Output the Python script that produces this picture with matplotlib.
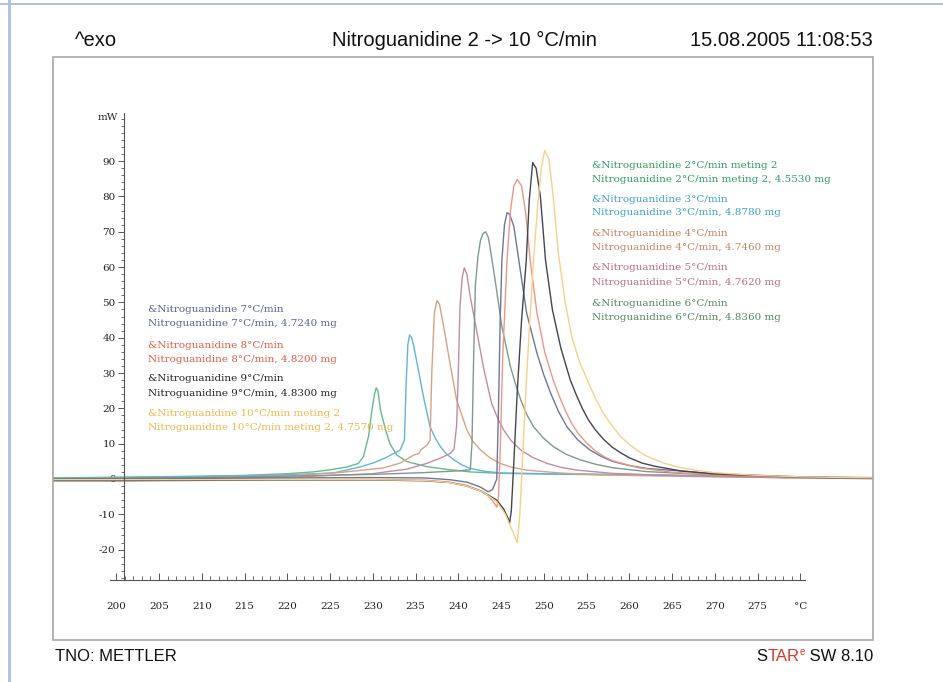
import matplotlib
matplotlib.use("Agg")
import matplotlib.pyplot as plt
from matplotlib.patches import Rectangle
from matplotlib.ticker import FixedLocator

plt.rcParams["axes.unicode_minus"] = False

# DSC curves, temperature in degC and heat flow in mW
t2 = [192.5, 200, 210, 215, 220, 223, 225, 227, 228.3, 228.9, 229.5, 229.9, 230.2, 230.4, 230.6, 230.9,
      231.5, 232.0, 232.8, 234.0, 236.3, 238.7, 241.4, 245, 250, 260, 270, 280, 288.5]
m2 = [0.3, 0.5, 0.8, 1.0, 1.5, 2.0, 2.6, 3.4, 4.4, 6.3, 12, 19.5, 24, 25.8, 25, 19.5,
      13.9, 10, 6.8, 4.9, 3.5, 2.7, 2.0, 1.6, 1.4, 1.1, 0.8, 0.5, 0.3]

t3 = [192.5, 200, 210, 220, 225.4, 228.5, 230, 231.5, 233.2, 233.7, 233.9, 234.1, 234.3, 234.55, 234.8,
      235.4, 236.0, 236.7, 237.3, 237.9, 238.6, 239.5, 240.4, 241.4, 243, 245, 250, 260, 270, 280, 288.5]
m3 = [0.2, 0.4, 0.7, 1.2, 1.7, 3.4, 4.5, 6.0, 8.2, 11, 27, 38, 40.8, 40, 37.5,
      30, 22.4, 14.8, 11.6, 9.2, 7.1, 5.4, 4.0, 3.0, 2.2, 1.7, 1.5, 1.3, 0.9, 0.6, 0.4]

t4 = [192.5, 200, 210, 220, 226, 231.2, 233.2, 234.8, 235.4, 235.6, 236.3, 236.7, 236.9, 237.2, 237.5,
      237.8, 238.3, 239.1, 239.8, 241.0, 241.7, 242.6, 243.7, 244.9, 246.3, 248.0, 251.9, 256, 260,
      270, 280, 288.5]
m4 = [0.0, 0.2, 0.4, 0.9, 1.8, 3.1, 4.5, 6.8, 7.2, 8.2, 9.5, 11, 30, 47, 50.5,
      49.5, 43, 31.8, 22.4, 13.9, 10.7, 8.2, 6.0, 4.4, 3.3, 2.5, 1.7, 1.2, 1.0,
      0.6, 0.3, 0.1]

t5 = [192.5, 200, 210, 220, 230, 234, 236.3, 237.9, 239.1, 239.5, 239.8, 240.0, 240.2, 240.45, 240.7,
      241.0, 241.4, 242.2, 243.0, 243.9, 244.6, 245.3, 246.2, 247.3, 248.7, 250.4, 252.0, 253.9, 258,
      262, 270, 280, 288.5]
m5 = [-0.2, 0.0, 0.2, 0.5, 1.5, 2.8, 4.4, 5.9, 7.3, 8.5, 15, 30, 49, 57, 59.8,
      58, 51.6, 41.3, 30.9, 21.4, 17.2, 13.9, 10.8, 8.2, 6.1, 4.4, 3.3, 2.5, 1.6,
      1.2, 0.7, 0.3, 0.1]

t6 = [192.5, 200, 210, 220, 230, 236, 240, 241.4, 241.6, 241.8, 242.0, 242.3, 242.6, 242.9, 243.2,
      243.5, 243.7, 244.3, 245.1, 246.1, 246.7, 247.3, 248.0, 248.8, 249.9, 251.1, 252.6, 254.3, 256,
      258, 262, 270, 280, 288.5]
m6 = [0.0, 0.2, 0.4, 0.8, 1.3, 1.8, 2.3, 2.6, 10, 35, 55, 63, 67.7, 69.5, 70,
      68.5, 65.8, 56.4, 43.1, 31.8, 26.8, 22.4, 18.3, 14.8, 11.7, 9.2, 7.0, 5.4, 4.2,
      3.2, 2.1, 1.1, 0.5, 0.2]

t7 = [192.5, 200, 210, 220, 230, 236, 239, 241, 242.5, 243.5, 244.0, 244.5, 244.7, 244.9, 245.1,
      245.4, 245.7, 246.0, 246.5, 247.3, 248.0, 249.2, 250.0, 250.8, 251.7, 252.7, 254.0, 255.4, 256.7,
      258, 260, 262, 270, 280, 288.5]
m7 = [0.0, 0.1, 0.2, 0.3, 0.4, 0.3, -0.2, -0.9, -2.2, -3.6, -3.0, 0, 20, 45, 62,
      72, 75.4, 75, 71.5, 58.3, 46.9, 35.6, 29.5, 24.3, 19.2, 14.8, 11.0, 8.2, 6.4,
      5.0, 3.8, 3.0, 1.5, 0.6, 0.3]

t8 = [192.5, 200, 210, 220, 230, 236, 239, 241, 242.5, 243.5, 244.2, 244.5, 244.7, 244.9, 245.2,
      245.7, 246.1, 246.5, 246.9, 247.4, 247.9, 248.4, 249.2, 250.1, 251.1, 251.8, 252.5, 253.2, 254,
      255, 256, 257, 258, 261, 265, 270, 280, 288.5]
m8 = [-0.4, -0.4, -0.3, -0.2, -0.1, -0.3, -0.9, -1.8, -3.2, -4.8, -6.8, -8.0, -5, 8, 35,
      62, 76, 83, 84.8, 83, 75, 62, 47, 36, 28, 23.5, 19.5, 16, 13,
      10.2, 8.0, 6.4, 5.2, 3.2, 1.9, 1.2, 0.5, 0.2]

t9 = [192.5, 200, 210, 220, 230, 236, 239, 241, 243, 244.5, 245.3, 245.8, 246.0, 246.2, 246.5,
      246.9, 247.4, 247.95, 248.3, 248.7, 249.1, 249.6, 250.2, 251.0, 252.0, 253.1, 253.8, 254.5, 255.2,
      256, 257, 258, 259, 260, 261.5, 263, 266, 270, 280, 288.5]
m9 = [-0.5, -0.5, -0.4, -0.3, -0.3, -0.5, -1.0, -2.0, -3.8, -6.0, -8.5, -11, -12.5, -9, 5,
      25, 45, 62, 79, 89.6, 88, 80, 62, 48, 37, 28, 23.8, 20, 16.8,
      14, 11.2, 9.0, 7.4, 6.0, 4.5, 3.6, 2.3, 1.4, 0.5, 0.2]

t10 = [192.5, 200, 210, 220, 230, 236, 239, 241, 243, 244.5, 245.5, 246.3, 246.9, 247.2, 247.5,
       247.9, 248.3, 248.8, 249.3, 249.7, 250.1, 250.6, 251.1, 251.7, 252.5, 253.3, 254.2, 255.1,
       256, 257, 258, 259, 260, 261, 262, 264, 266, 268, 270, 275, 280, 288.5]
m10 = [-0.2, -0.2, -0.2, -0.2, -0.2, -0.4, -1.0, -2.0, -3.8, -6.5, -10, -14.5, -18, -10, 5,
       25, 42, 62, 78, 88, 93, 90.5, 80, 64, 50, 40, 33, 28,
       23, 18.5, 15, 12, 9.8, 8, 6.5, 4.5, 3.2, 2.4, 1.8, 1.0, 0.6, 0.3]

temps = [t2, t3, t4, t5, t6, t7, t8, t9, t10]
flows = [m2, m3, m4, m5, m6, m7, m8, m9, m10]
line_colors = ["#66bb8c", "#62b4dc", "#d6a285", "#c48ba4", "#7f9a8c",
               "#6c7898", "#ec9786", "#45454f", "#f7d08a"]
text_colors = ["#2e9e5e", "#3c9fd0", "#c2835e", "#c0688c", "#4f8a60",
               "#5a6090", "#e05c44", "#222222", "#f2b646"]

legend_lines = [
    ("&Nitroguanidine 2°C/min meting 2", "Nitroguanidine 2°C/min meting 2, 4.5530 mg"),
    ("&Nitroguanidine 3°C/min", "Nitroguanidine 3°C/min, 4.8780 mg"),
    ("&Nitroguanidine 4°C/min", "Nitroguanidine 4°C/min, 4.7460 mg"),
    ("&Nitroguanidine 5°C/min", "Nitroguanidine 5°C/min, 4.7620 mg"),
    ("&Nitroguanidine 6°C/min", "Nitroguanidine 6°C/min, 4.8360 mg"),
    ("&Nitroguanidine 7°C/min", "Nitroguanidine 7°C/min, 4.7240 mg"),
    ("&Nitroguanidine 8°C/min", "Nitroguanidine 8°C/min, 4.8200 mg"),
    ("&Nitroguanidine 9°C/min", "Nitroguanidine 9°C/min, 4.8300 mg"),
    ("&Nitroguanidine 10°C/min meting 2", "Nitroguanidine 10°C/min meting 2, 4.7570 mg"),
]

x_ticks = list(range(200, 285, 5))
x_labels = [str(v) for v in range(200, 280, 5)] + ["°C"]
x_minor = list(range(200, 281))
y_ticks = list(range(-20, 100, 10))
y_minor = list(range(-28, 103, 2))

W, H = 943, 682
fig = plt.figure(figsize=(W / 100, H / 100), dpi=100)

# page decoration
fig.patches.append(Rectangle((0, 1 - 5 / H), 1, 2 / H, transform=fig.transFigure,
                             facecolor="#b4c0e4", edgecolor="none"))
fig.patches.append(Rectangle((8 / W, 0), 2.5 / W, 1, transform=fig.transFigure,
                             facecolor="#b4c0e4", edgecolor="none"))

left, right, top, bottom = 53, 873, 57, 640
ax = fig.add_axes([left / W, 1 - bottom / H, (right - left) / W, (bottom - top) / H])
fig.patches.append(Rectangle((left / W, 1 - bottom / H), (right - left) / W, (bottom - top) / H,
                             transform=fig.transFigure, facecolor="none",
                             edgecolor="#a8a8a8", lw=1.2))

ax.set_xlim(192.6, 288.5)
ax.set_ylim(-45.6, 119.5)

for t, m, c in zip(temps, flows, line_colors):
    ax.plot(t, m, color=c, lw=1.0, solid_joinstyle="round")

ax.spines["top"].set_visible(False)
ax.spines["right"].set_visible(False)
ax.spines["left"].set_position(("data", 200.9))
ax.spines["left"].set_bounds(-28.6, 103.5)
ax.spines["bottom"].set_position(("data", -28.6))
ax.spines["bottom"].set_bounds(199.3, 280.5)
for s in ("left", "bottom"):
    ax.spines[s].set_color("#555555")
    ax.spines[s].set_linewidth(0.8)

ax.set_xticks(x_ticks)
ax.set_xticklabels(x_labels)
ax.xaxis.set_minor_locator(FixedLocator(x_minor))
ax.set_yticks(y_ticks)
ax.yaxis.set_minor_locator(FixedLocator(y_minor))
ax.tick_params(axis="x", which="major", direction="in", length=5, width=0.7, color="#555555",
               pad=16, labelsize=7.5, labelcolor="#222222")
ax.tick_params(axis="x", which="minor", direction="in", length=3, width=0.6, color="#555555")
ax.tick_params(axis="y", which="major", direction="out", length=4, width=0.7, color="#555555",
               pad=2, labelsize=7.5, labelcolor="#222222")
ax.tick_params(axis="y", which="minor", direction="out", length=2.5, width=0.6, color="#555555")
for lab in ax.get_xticklabels() + ax.get_yticklabels():
    lab.set_family("DejaVu Serif")
ax.patch.set_visible(False)

ax.annotate("mW", xy=(200.9, 102.5), xytext=(-4, 0), textcoords="offset points",
            ha="right", va="center", fontsize=7.5, family="DejaVu Serif", color="#222222")

# labels of the curves
right_y = [166, 199, 234, 268, 303]
left_y = [310, 345, 379, 414]
label_y = right_y + left_y
label_x = [592] * 5 + [148] * 4
for (l1, l2), x, y, c in zip(legend_lines, label_x, label_y, text_colors):
    fig.text(x / W, 1 - y / H, l1, color=c, fontsize=7.5, family="DejaVu Serif", va="center")
    fig.text(x / W, 1 - (y + 14) / H, l2, color=c, fontsize=7.5, family="DejaVu Serif", va="center")

hfont = dict(family="Liberation Sans", fontsize=14.5, color="#111111", va="center")
fig.text(75 / W, 1 - 40 / H, "^exo", ha="left", **hfont)
fig.text(464 / W, 1 - 40 / H, "Nitroguanidine 2 -> 10 °C/min", ha="center", **hfont)
fig.text(873 / W, 1 - 40 / H, "15.08.2005 11:08:53", ha="right", **hfont)

# footer, STAR^e logo built from pieces on one baseline
ffont = dict(family="Liberation Sans", fontsize=12, va="baseline")
base_y = 1 - 661 / H
fig.text(55 / W, base_y, "TNO: METTLER", ha="left", color="#111111", **ffont)
t_end = fig.text(873 / W, base_y, " SW 8.10", ha="right", color="#111111", **ffont)
t_e = fig.text(0, base_y, "e", ha="left", color="#d83a2a", family="Liberation Sans",
               fontsize=7, va="baseline")
t_tar = fig.text(0, base_y, "TAR", ha="left", color="#d83a2a", **ffont)
t_s = fig.text(0, base_y, "S", ha="left", color="#111111", **ffont)

fig.canvas.draw()
r = fig.canvas.get_renderer()
x_end = t_end.get_window_extent(r).x0
w_e = t_e.get_window_extent(r).width
w_tar = t_tar.get_window_extent(r).width
w_s = t_s.get_window_extent(r).width
t_e.set_position(((x_end - w_e) / W, base_y + 6 / H))
t_tar.set_position(((x_end - w_e - w_tar) / W, base_y))
t_s.set_position(((x_end - w_e - w_tar - w_s) / W, base_y))

fig.savefig("out.png", dpi=100)
